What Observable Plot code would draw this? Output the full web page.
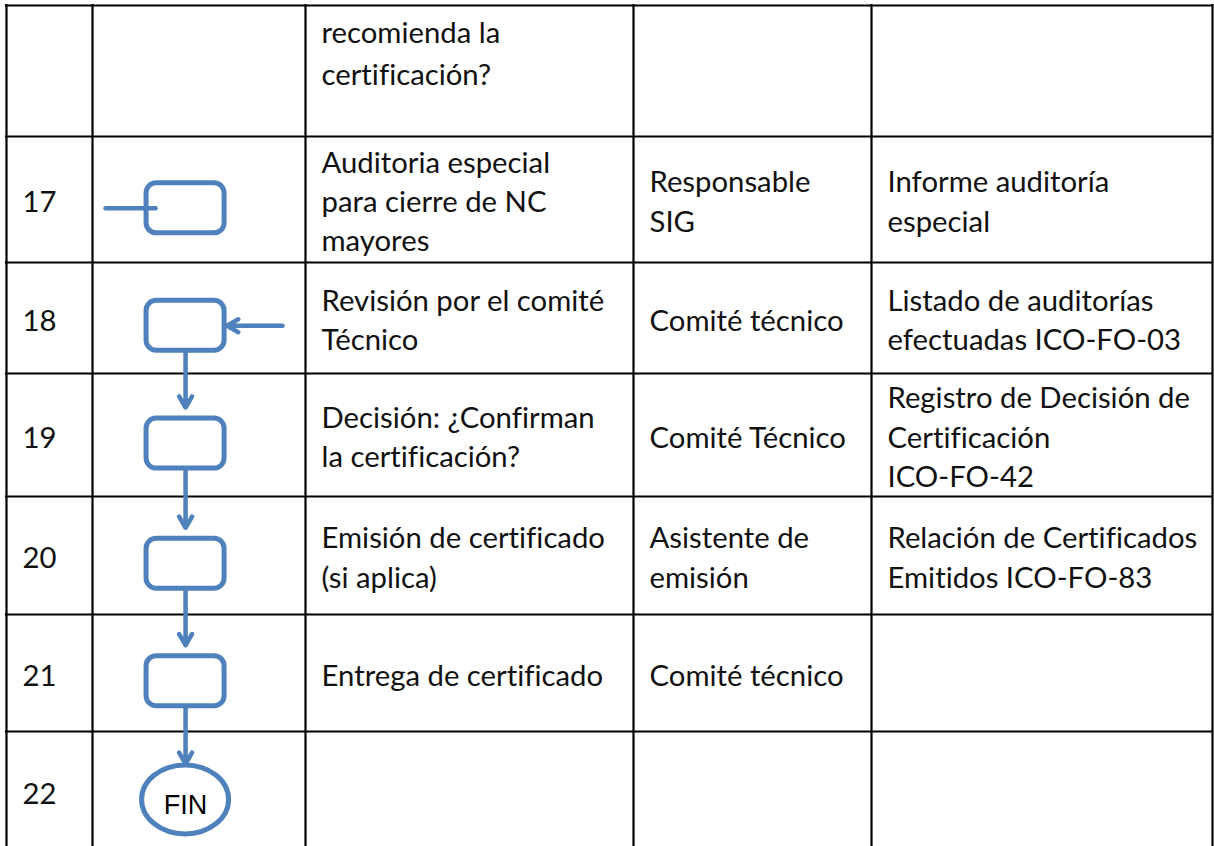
<!DOCTYPE html>
<html>
<head>
<meta charset="utf-8">
<script src="https://cdn.jsdelivr.net/npm/d3@7"></script>
<script src="https://cdn.jsdelivr.net/npm/@observablehq/plot@0.6"></script>
<style>
  html, body { margin: 0; padding: 0; background: #fff; overflow: hidden; }
  #chart svg { display: block; }
  #chart svg text { font-variant-ligatures: none; font-feature-settings: "liga" 0; }
</style>
</head>
<body>
<div id="chart"></div>
<script>
// ---------- data ----------
const pasos = ["", "17", "18", "19", "20", "21", "22"];
const actividades = [
  "recomienda la\ncertificación?",
  "Auditoria especial\npara cierre de NC\nmayores",
  "Revisión por el comité\nTécnico",
  "Decisión: ¿Confirman\nla certificación?",
  "Emisión de certificado\n(si aplica)",
  "Entrega de certificado",
  ""
];
const responsables = ["", "Responsable\nSIG", "Comité técnico", "Comité Técnico", "Asistente de\nemisión", "Comité técnico", ""];
const registros = [
  "",
  "Informe auditoría\nespecial",
  "Listado de auditorías\nefectuadas ICO-FO-03",
  "Registro de Decisión de\nCertificación\nICO-FO-42",
  "Relación de Certificados\nEmitidos ICO-FO-83",
  "",
  ""
];
const simbolos = [null, "proceso", "proceso", "proceso", "proceso", "proceso", "fin"];
const etiquetaFin = "FIN";
const flujo = [["18", "19"], ["19", "20"], ["20", "21"], ["21", "22"]];
const entradas = [{paso: "17", desde: "izquierda"}, {paso: "18", desde: "derecha"}];

// ---------- layout ----------
const colWidths = [86, 213, 328, 238, 341];
const rowHeights = [131, 126, 111, 123, 118, 117, 120];
const colEdges = Array.from(d3.cumsum([6, ...colWidths]));
const rowEdges = Array.from(d3.cumsum([5, ...rowHeights]));
const nodeCol = 1.437;   // position inside the diagram column
const nodeRow = 0.57;    // position inside each row
const blue = "#4F81BD";
const font = "Lato";
const fontSize = 29.3;
const lineHeight = 1.335;

const filas = pasos.map((p, i) => ({
  i, paso: p, actividad: actividades[i], responsable: responsables[i],
  registro: registros[i], simbolo: simbolos[i]
}));

const celdas = filas.flatMap(r => [
  {row: r.i, col: 0, text: r.paso},
  {row: r.i, col: 2, text: r.actividad},
  {row: r.i, col: 3, text: r.responsable},
  {row: r.i, col: 4, text: r.registro}
]).filter(d => d.text);

const nodos = filas.filter(r => r.simbolo).map(r => ({paso: r.paso, simbolo: r.simbolo, x: nodeCol, y: r.i + nodeRow}));
const nodo = Object.fromEntries(nodos.map(n => [n.paso, n]));
const aristas = flujo.map(([a, b]) => ({x1: nodo[a].x, y1: nodo[a].y, x2: nodo[b].x, y2: nodo[b].y}));
const entIzq = entradas.filter(e => e.desde === "izquierda").map(e => ({x1: 1, y1: nodo[e.paso].y, x2: nodo[e.paso].x, y2: nodo[e.paso].y}));
const entDer = entradas.filter(e => e.desde === "derecha").map(e => ({x1: 2, y1: nodo[e.paso].y, x2: nodo[e.paso].x, y2: nodo[e.paso].y}));

const chart = Plot.plot({
  width: 1214,
  height: 846,
  margin: 0,
  style: {background: "#fff", overflow: "hidden"},
  x: {type: "linear", domain: d3.range(colEdges.length), range: colEdges, axis: null},
  y: {type: "linear", domain: d3.range(rowEdges.length), range: rowEdges, axis: null},
  marks: [
    // grid
    Plot.ruleY(d3.range(rowEdges.length - 1), {y: d => d, x1: 0, x2: colEdges.length - 1, stroke: "#000", strokeWidth: 2.2, strokeLinecap: "square"}),
    Plot.ruleX(d3.range(colEdges.length), {x: d => d, y1: 0, y2: rowEdges.length - 1, stroke: "#000", strokeWidth: 2.2, strokeLinecap: "square"}),
    // text in centred rows
    Plot.text(celdas.filter(d => d.row > 0), {
      x: "col", y: d => d.row + 0.5, text: "text",
      textAnchor: "start", lineAnchor: "middle", dx: 16,
      fontSize, lineHeight, fontFamily: font, fill: "#111"
    }),
    // continuation row (top aligned)
    Plot.text(celdas.filter(d => d.row === 0), {
      x: "col", y: "row", text: "text",
      textAnchor: "start", lineAnchor: "top", dx: 16, dy: 8,
      fontSize, lineHeight: 1.42, fontFamily: font, fill: "#111"
    }),
    // process boxes
    Plot.rect(nodos.filter(d => d.simbolo === "proceso"), {
      x1: "x", x2: "x", y1: "y", y2: "y",
      insetLeft: -39, insetRight: -39, insetTop: -25, insetBottom: -25,
      rx: 10, fill: "none", stroke: blue, strokeWidth: 5
    }),
    // end ellipse
    Plot.rect(nodos.filter(d => d.simbolo === "fin"), {
      x1: "x", x2: "x", y1: "y", y2: "y",
      insetLeft: -43.5, insetRight: -43.5, insetTop: -34.5, insetBottom: -34.5,
      rx: 43.5, ry: 34.5, fill: "none", stroke: blue, strokeWidth: 5
    }),
    Plot.text(nodos.filter(d => d.simbolo === "fin"), {
      x: "x", y: "y", text: () => etiquetaFin, dy: 5,
      fontSize: 27, fontFamily: "Liberation Sans", fill: "#000"
    }),
    // flow arrows
    Plot.arrow(aristas, {
      x1: "x1", y1: "y1", x2: "x2", y2: "y2",
      insetStart: 27, insetEnd: 36, headLength: 4.3, headAngle: 60,
      stroke: blue, strokeWidth: 4.5
    }),
    Plot.arrow(entIzq, {
      x1: "x1", y1: "y1", x2: "x2", y2: "y2",
      insetStart: 13, insetEnd: 30, headLength: 0,
      stroke: blue, strokeWidth: 4.5
    }),
    Plot.arrow(entDer, {
      x1: "x1", y1: "y1", x2: "x2", y2: "y2",
      insetStart: 23, insetEnd: 41.5, headLength: 4.3, headAngle: 60,
      stroke: blue, strokeWidth: 4.5
    })
  ]
});
document.getElementById("chart").appendChild(chart);
</script>
</body>
</html>
